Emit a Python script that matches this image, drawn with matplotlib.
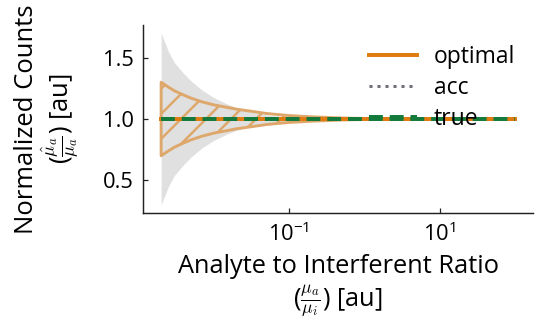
import matplotlib

matplotlib.use("Agg")
import matplotlib.pyplot as plt
import numpy as np

# analyte / interferent ratio and half-widths of the two ribbons
ratio = [0.002, 0.0025, 0.003, 0.004, 0.005, 0.007, 0.01, 0.015, 0.02,
         0.03, 0.05, 0.1, 0.2, 0.5, 1, 10, 100]
acc_spread = [0.70, 0.55, 0.46, 0.37, 0.31, 0.235, 0.175, 0.123, 0.093,
              0.06, 0.033, 0.014, 0.006, 0.003, 0.002, 0.0005, 0.0]
optimal_spread = [0.30, 0.26, 0.23, 0.195, 0.17, 0.14, 0.115, 0.095, 0.08,
                  0.065, 0.045, 0.028, 0.018, 0.008, 0.004, 0.001, 0.0]
normalized = [1.0] * len(ratio)

x_ticks = [0.1, 10]
x_tick_labels = [r"$\mathregular{10^{-1}}$", r"$\mathregular{10^{1}}$"]
y_ticks = [0.5, 1.0, 1.5]
y_tick_labels = ["0.5", "1.0", "1.5"]

ORANGE = "#e07b10"
GREEN = "#137a3c"
GRAY = "#707078"
BAND = "#e0e0e0"
HATCH = "#dea86c"

plt.rcParams["font.family"] = ["Open Sans", "DejaVu Sans"]
plt.rcParams["mathtext.fontset"] = "cm"
plt.rcParams["hatch.linewidth"] = 1.2
plt.rcParams["hatch.color"] = HATCH


def main() -> None:
    fig = plt.figure(figsize=(543 / 150, 326 / 150), dpi=150)
    ax = fig.add_axes([143 / 543, 1 - 213 / 326, 390 / 543, 188 / 326])

    r = np.array(ratio)
    y = np.array(normalized)
    a = np.array(acc_spread)
    o = np.array(optimal_spread)

    ax.fill_between(r, y - a, y + a, color=BAND, lw=0)
    ax.fill_between(r, y - o, y + o, facecolor="none", edgecolor=HATCH,
                    hatch="//", lw=1.4)

    ax.plot(r, y, color=GRAY, lw=1.45, ls=":", label="acc", zorder=3)
    ax.plot(r, y, color=ORANGE, lw=1.9, label="optimal", zorder=4)
    ax.plot(r, y, color=GREEN, lw=1.9, dashes=(3.5, 1.75), label="true",
            zorder=5)

    ax.set_xscale("log")
    ax.set_xlim(10 ** -2.94, 10 ** 2.24)
    ax.set_ylim(0.233, 1.767)
    ax.set_xticks(x_ticks)
    ax.set_xticklabels(x_tick_labels)
    ax.xaxis.set_minor_locator(matplotlib.ticker.NullLocator())
    ax.set_yticks(y_ticks)
    ax.set_yticklabels(y_tick_labels)

    for side in ["top", "right"]:
        ax.spines[side].set_visible(False)
    for side in ["left", "bottom"]:
        ax.spines[side].set_linewidth(0.7)
        ax.spines[side].set_color("#222222")
    ax.tick_params(direction="in", length=2.4, width=0.6, labelsize=10.5,
                   pad=4.5, colors="#222222", labelcolor="black")

    ax.set_xlabel("Analyte to Interferent Ratio\n"
                  r"($\frac{\mu_a}{\mu_i}$) [au]", fontsize=12.2,
                  linespacing=1.1)
    ax.xaxis.set_label_coords(0.5, -0.22)
    ax.set_ylabel("Normalized Counts\n"
                  r"($\frac{\hat{\mu}_a}{\mu_a}$) [au]", fontsize=12.3,
                  linespacing=1.0)
    ax.yaxis.set_label_coords(-0.16, 0.5)

    handles, labels = ax.get_legend_handles_labels()
    order = [1, 0, 2]
    ax.legend([handles[i] for i in order], [labels[i] for i in order],
              loc="upper left", bbox_to_anchor=(0.555, 0.94), frameon=False,
              fontsize=11, handlelength=2.1, handletextpad=0.74,
              labelspacing=0.3, borderaxespad=0.0)

    fig.savefig("out.png", dpi=150)


if __name__ == "__main__":
    main()
